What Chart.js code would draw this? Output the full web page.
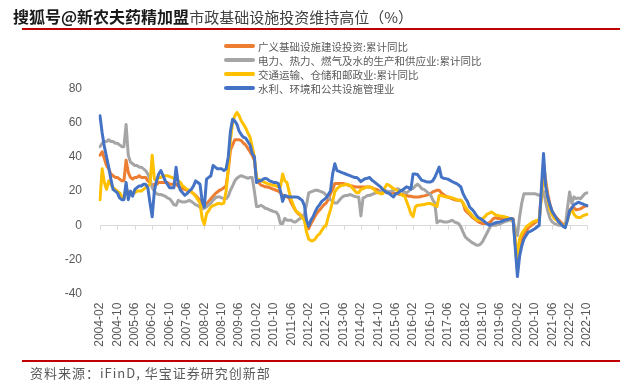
<!DOCTYPE html>
<html><head><meta charset="utf-8">
<script src="https://cdn.jsdelivr.net/npm/chart.js@4.4.0/dist/chart.umd.min.js"></script>
<style>
html,body{margin:0;padding:0;background:#fff;}
#wrap{position:relative;width:640px;height:392px;overflow:hidden;font-family:"Noto Sans CJK SC","Liberation Sans",sans-serif;}
canvas{position:absolute;left:0;top:0;}
#title{position:absolute;left:13px;top:5px;font-size:15px;color:#404040;white-space:nowrap;line-height:22px;}
#title .wm{font-weight:bold;color:#1a1a1a;font-size:16px;text-shadow:0 0 1px #fff,0 0 2px #fff;}
.redline{position:absolute;left:22px;width:598px;height:2px;background:#c00000;}
#src{position:absolute;left:30px;top:364px;font-size:13px;letter-spacing:1px;color:#595959;white-space:nowrap;line-height:18px;}
#legend{position:absolute;left:224px;top:39px;}
.item{display:flex;align-items:center;height:14px;font-size:10.5px;color:#595959;white-space:nowrap;}
.sw{width:31px;height:4px;border-radius:2px;margin-right:3px;}
</style></head>
<body><div id="wrap">
<canvas id="c" width="640" height="392"></canvas>
<div id="title"><span class="wm">搜狐号@新农夫药精加盟</span>市政基础设施投资维持高位（%）</div>
<div class="redline" style="top:28px"></div>
<div id="legend"></div>
<div class="redline" style="top:360px"></div>
<div id="src">资料来源：iFinD, 华宝证券研究创新部</div>
</div>
<script>
// categories: monthly 2004-02 .. 2022-10
const startYear = 2004, startMonth = 2, endYear = 2022, endMonth = 10;
const months = [];
for (let y = startYear, m = startMonth; y < endYear || (y === endYear && m <= endMonth); ) {
  months.push(y + '-' + String(m).padStart(2, '0'));
  m++; if (m > 12) { m = 1; y++; }
}
const tickEvery = 8;
const yTicks = [80, 60, 40, 20, 0, -20, -40];

const seriesNames = ['广义基础设施建设投资:累计同比', '电力、热力、燃气及水的生产和供应业:累计同比', '交通运输、仓储和邮政业:累计同比', '水利、环境和公共设施管理业'];
const seriesColors = ['#ED7D31', '#A5A5A5', '#FFC000', '#4472C4'];

const infraBroad = [
 41,43,39,35,33,30,29,28,28,27,26,
 26,38,31,28,27,28,28,29,28,28,28,26,
 25,23,24,24,25,25,25,25,25,24,24,24,
 24,23,22,21.5,21,20.5,20,19.5,18.5,17.5,16,14.6,
 12.5,10.7,12.5,14,15.5,17,18.5,19.5,20.5,21,22,23,
 32,44,47,50,50,50,49.5,48,47,45,43,41,
 38,27,25,23.5,23,22.5,22.4,22,21.5,21,20.5,20,
 19,17.5,17,16.6,16,13,10.7,8.5,7,6,5.8,4,
 -0.5,-2,1,3,5.5,7.5,9,10.5,12,13,15,18.5,
 21,24.4,24.4,24.4,24.4,24.4,24,23.5,23,23,22.5,22.4,
 22.4,22.4,22.4,22.4,22.4,22.4,22,21.4,21,20.5,19.8,19.5,
 19.5,19.5,19.5,19,19,18.5,18.5,18,18,17.8,17.5,17,
 17,16.6,16.6,16.6,16.6,17,17.2,17.5,18,18.5,19.5,20,
 20.5,20.5,19,18,17,16.6,16,15.5,15,14.6,14.6,14.6,
 13,8.8,7.5,6.5,5,4,3,2,1.5,1,1,1,
 1.5,2.5,4,4.4,4,4.1,3.8,4.2,4.5,4.2,4,3.8,
 -11,-26,-16,-9,-6,-3.5,-1.5,-0.5,0.5,1.5,2.5,3,
 18,36,26,18,12,8,6,4.5,3,1.7,0.7,0.4,
 4,8.6,10.5,10.3,9,9.3,9.6,10.4,11.2,11.4
];
const utilities = [
 46,48,49,49,50,49,49,48,48,47,46,
 46,59,41,37,36,35,35,34,34,33,32,30,
 27,22,20,18.5,18,18,17.5,17,16,15.5,14,12,
 11.7,14.6,14,13.6,13.6,14,14.6,14,13,12,11.5,10.5,
 9.7,10,10.7,12,13,14.6,16,16.6,16.6,16,15.6,15.6,
 17,20.5,23,26,27.5,28.5,29,28.5,28,27.5,28,28,
 20,11,11,11.7,11,10,9.7,9,8.5,8,7.8,6,
 1,1,4,3,3,2.9,2,2,3,4,5,6.5,
 12,19,19.5,20,20.5,20.5,20,19.5,19,17.5,16.6,15,
 14,13,13,14.5,16,17,17.5,17.5,18,17.5,17,16.6,
 16.6,5.5,16,16.5,17.5,17.5,18,18.5,19,19.5,20,20.5,
 20.5,20,19.5,20,20.5,21,21.4,20.5,20,19.5,19,20,
 21.4,21.5,23,24,23,21.4,21,20,19,18,15,13,
 1.5,2.5,2.5,2,2,2,2.5,2.9,2,1.5,1,-1,
 -4,-6.8,-8,-9,-10,-10.7,-11.5,-11.7,-11,-9.5,-7,-4.5,
 -2,0,0,0,0.5,0.8,1.5,2,2.5,2.9,2.9,2.5,
 -2,-6,5,13,18.5,18.5,18.5,18.5,18.5,18.5,18,17.5,
 18.5,20,13.6,8,3.9,2,1,0.5,0,0,-0.5,-1,
 10,19.5,12.7,16.6,15.6,16,15.5,17,18.5,19
];
const transport = [
 15,33,25,21,26,24,22,21,20,19,17,
 16,22,19,18,19,19,20,20,20,21,22,23,
 24,41,27,26,28,28,29,29,29,28.5,28,27.5,
 27,26,25,23,22,21,20.5,19.5,18.5,17,15,13,
 4,0.5,6.8,8.5,10.7,11.5,12,12.7,12.7,12.5,13,20,
 33,50,60,64,66,64,61,59,57,54,51.6,46,
 40,27.3,26.8,26.3,25.5,25,24.4,24,23.6,23.4,23,22.4,
 22.4,30,26,25,19.5,15,11.5,8.5,7.5,6.5,4.5,3,
 -4,-8,-9,-9,-8,-6,-5,-3,-1,0,5,9,
 14,19.5,21.4,22.5,23.4,23.4,24,23.8,23.4,22,20.5,19,
 19,21,21.4,22,22.4,22.4,22,21,19.5,19,18.5,18.5,
 22,24,23.4,22.4,21.4,21,20,18.5,17.5,17.5,14,10.7,
 6.8,5,10.7,11.7,11.7,12,12.2,12.5,12.7,12.7,12.2,11.7,
 11,17.5,17.5,17,16.6,16.6,16.4,16,15.6,15,14.6,14.6,
 13,10.7,9,7.5,6,4.5,3.5,2.9,3,3.9,5,6.5,
 7,7.8,7,6,5.8,5.5,5.3,5,4.6,4,3.5,3.2,
 -8,-18.5,-8,-4.9,-3,-1,0,1,2,2.5,2.8,3,
 16,31,24,15,9,6,4,3,2,1,0,-0.5,
 3,7,9.7,6.5,5,4.5,4.5,5.5,6,6.4
];
const waterEnv = [
 64,54,46,40,34,27,21,20,19,16,15,
 15,25,15,20,17,21,22,23,23,24,24,22,
 13,5,20,26,30,32,29,26,24,22,22,22,
 34,24,20.5,19,17.5,18.5,20,21,23,26,25,24,
 14,10.7,27,28,29,35,34,33,33,33,32,33,
 40,55,62,61,59,55,53,51.5,51,49,47,42,
 40,25,26,26,27,27.5,27,26,25.5,25,25,24.5,
 20,14,17.5,17,16.6,16.6,16.6,16.5,16.4,15.6,14.6,11.7,
 3,-0.5,3,5,8,10.5,12,14,15,16,18,20,
 30,36,32,31.5,31,30.5,30,29.5,29,28.5,28,28,
 27,25.5,26.5,27.3,27.5,28,26.5,25.5,24.5,23.5,22.5,21,
 20,19,18.7,17.5,16.6,18.5,18.7,20,20.5,21.5,22.5,22,
 21,30,30,29.7,28,26.3,26,25.5,25.3,25.3,26,28,
 31,34,28.3,27.5,27.3,27,26.3,25.5,25,24.4,23.5,22.4,
 18.5,16,14,10.7,9.5,8,6,4.5,3.9,3,2,1,
 0,0.5,1,1.5,1.8,2,2.5,3,3.3,3.6,4,3.5,
 -13,-30,-18,-12,-8,-6,-4,-3.5,-2.8,-2,-1,0,
 21,42,23,16,11.7,8,6,4,2,0.8,-0.5,-1.4,
 3,8.5,10,12,12.7,13.5,13,12.5,12,11.5
];
const allSeries = [infraBroad, utilities, transport, waterEnv];

// HTML legend
const lg = document.getElementById('legend');
seriesNames.forEach((n, i) => {
  const d = document.createElement('div'); d.className = 'item';
  const s = document.createElement('span'); s.className = 'sw'; s.style.background = seriesColors[i];
  const t = document.createElement('span'); t.textContent = n;
  d.appendChild(s); d.appendChild(t); lg.appendChild(d);
});

const zeroAxis = {
  id: 'zeroAxis',
  beforeDatasetsDraw(chart) {
    const {ctx, chartArea, scales: {x, y}} = chart;
    const y0 = Math.round(y.getPixelForValue(0)) + 0.5;
    ctx.save();
    ctx.strokeStyle = '#d9d9d9'; ctx.lineWidth = 1;
    ctx.beginPath();
    ctx.moveTo(chartArea.left, y0); ctx.lineTo(chartArea.right, y0);
    for (let i = 0; i < months.length; i += tickEvery) {
      const px = Math.round(x.getPixelForValue(i)) + 0.5;
      ctx.moveTo(px, y0); ctx.lineTo(px, y0 + 4);
    }
    ctx.stroke();
    ctx.restore();
  }
};

new Chart(document.getElementById('c'), {
  type: 'line',
  data: {
    labels: months,
    datasets: allSeries.map((d, i) => ({
      label: seriesNames[i], data: d, borderColor: seriesColors[i], backgroundColor: seriesColors[i],
      borderWidth: 3, pointRadius: 0, tension: 0, fill: false, order: allSeries.length - i,
      borderJoinStyle: 'round', borderCapStyle: 'round'
    }))
  },
  options: {
    responsive: false, animation: false,
    layout: {padding: {left: 40, right: 53, top: 88.5, bottom: 38.3}},
    plugins: {legend: {display: false}, tooltip: {enabled: false}},
    scales: {
      x: {
        grid: {display: false, drawTicks: false}, border: {display: false},
        ticks: {autoSkip: false, maxRotation: 90, minRotation: 90, padding: 9,
          font: {size: 12, family: 'Liberation Sans'}, color: '#595959',
          callback: (v, i) => (i % tickEvery === 0 ? months[i] : null)},
        afterFit: s => { s.height = 60; }
      },
      y: {
        min: yTicks[yTicks.length - 1], max: yTicks[0],
        grid: {display: false, drawTicks: false}, border: {display: false},
        afterBuildTicks: s => { s.ticks = yTicks.map(v => ({value: v})); },
        ticks: {padding: 18, font: {size: 12, family: 'Liberation Sans'}, color: '#595959'},
        afterFit: s => { s.width = 60; }
      }
    }
  },
  plugins: [zeroAxis]
});
</script>
</body></html>
